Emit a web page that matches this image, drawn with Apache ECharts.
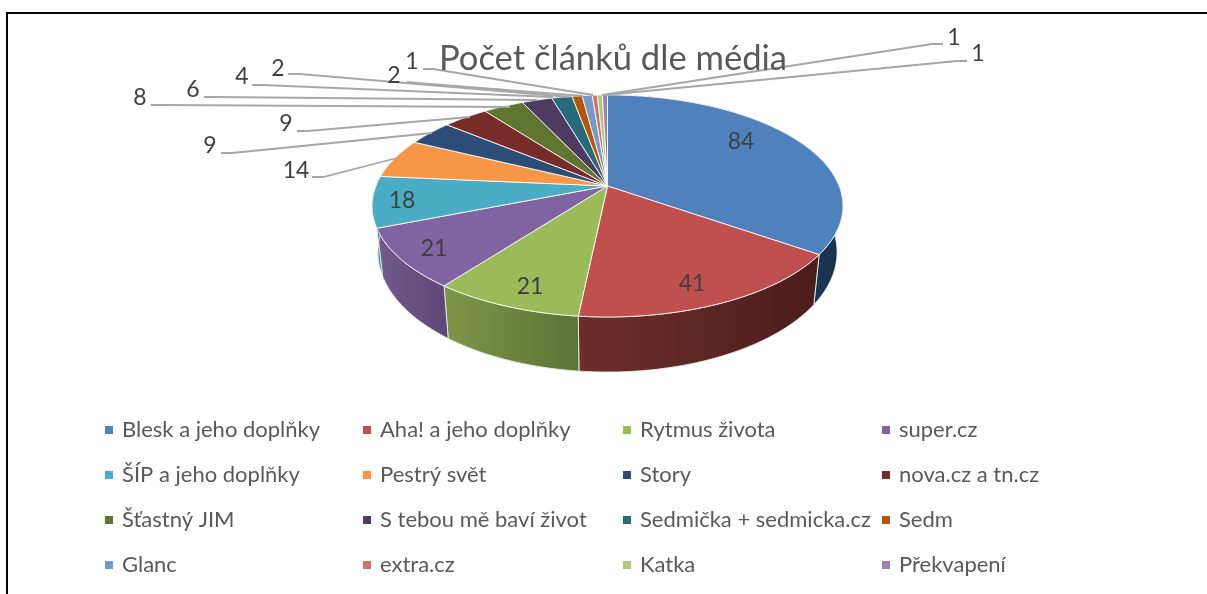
<!DOCTYPE html>
<html><head><meta charset="utf-8">
<style>html,body{margin:0;padding:0;background:#fff}#c{width:1207px;height:594px}</style>
<script src="https://cdn.jsdelivr.net/npm/echarts@6/dist/echarts.min.js"></script>
</head><body><div id="c"></div>
<script>
const categories = ['Blesk a jeho doplňky','Aha! a jeho doplňky','Rytmus života','super.cz','ŠÍP a jeho doplňky','Pestrý svět','Story','nova.cz a tn.cz','Šťastný JIM','S tebou mě baví život','Sedmička + sedmicka.cz','Sedm','Glanc','extra.cz','Katka','Překvapení'];
const values = [84,41,21,21,18,14,9,9,8,6,4,2,2,1,1,1];
const colors = ['#4f81bd','#c0504d','#9bbb59','#8064a2','#4bacc6','#f79646','#2c4d75','#772c2a','#5f7530','#4d3b62','#276a7c','#b65708','#729aca','#cd7371','#afc97a','#9983b5'];
const wallLeft = ['#1a3350','#6e2e2b','#7f9548','#725a8c','#2f8aa2','#b06a30','#1e3650','#521e1d','#435322','#352945','#1b4a57','#7e3d05','#4f6c8d','#8f504f','#7a8c55','#6b5c7f'];
const wallRight = ['#1a3350','#4b1d1b','#5e7334','#5e4778','#2f8aa2','#b06a30','#1e3650','#521e1d','#435322','#352945','#1b4a57','#7e3d05','#4f6c8d','#8f504f','#7a8c55','#6b5c7f'];
// label centre and leader polyline (layout only, not data)
const labelAt = [[741,142],[692,284],[530,287],[434,249],[402,201],[296,171],[210,146],[286,124],[140,98],[193,90],[242,77],[278,69],[394,76],[412,62],[954,38],[978,54]];
const leaders = [null,null,null,null,null,
 [[312,177],[323,177],[397,158]],
 [[221,153],[232,153],[432,133]],
 [[297,131],[308,131],[470,117]],
 [[151,105],[162,105],[510,107]],
 [[204,97],[215,97],[537,100]],
 [[252,85],[263,85],[553,97]],
 [[288,74],[300,74],[570,97]],
 [[407,82],[417,83],[583,96]],
 [[423,69],[433,69],[593,95]],
 [[943,44],[932,44],[602,95]],
 [[967,61],[957,61],[605,95]]];
const FONT = 'Lato, "Open Sans", sans-serif';
const total = values.reduce((a,b)=>a+b,0);
const CX=607.5, CY=186, RX=231.6, B=107.4, K=0.18;
const BOT_SX=0.975, BOT_SY=1.08, BOT_CY=230.6;
function topPt(theta,r){
  const u=r*Math.sin(theta), w=r*Math.cos(theta), d=1+K*w;
  return [CX+RX*u/d, CY-B*w/d];
}
function bottomPt(theta){
  const p=topPt(theta,1);
  return [CX+(p[0]-CX)*BOT_SX, BOT_CY+(p[1]-CY)*BOT_SY];
}
function rim(a0,a1,fn){
  const n=Math.max(2,Math.ceil((a1-a0)/0.01)), pts=[];
  for(let i=0;i<=n;i++) pts.push(fn(a0+(a1-a0)*i/n));
  return pts;
}
function makeRender(i){
  return function(){
    const before=values.slice(0,i).reduce((a,b)=>a+b,0);
    const a0=before/total*2*Math.PI, a1=(before+values[i])/total*2*Math.PI;
    const topRim=rim(a0,a1,t=>topPt(t,1));
    const botRim=rim(a0,a1,bottomPt);
    const children=[{
      type:'polygon',z2:1,
      shape:{points:topRim.concat(botRim.slice().reverse())},
      style:{fill:{type:'linear',x:0,y:0,x2:1,y2:0,colorStops:[{offset:0,color:wallLeft[i]},{offset:1,color:wallRight[i]}]},stroke:'rgba(235,235,235,0.9)',lineWidth:1}
    },{
      type:'polygon',z2:2,
      shape:{points:[[CX,CY]].concat(topRim)},
      style:{fill:colors[i],stroke:'rgba(255,255,255,0.85)',lineWidth:1,lineJoin:'round'}
    }];
    if(leaders[i]) children.push({type:'polyline',z2:3,shape:{points:leaders[i]},style:{fill:null,stroke:'#a6a6a6',lineWidth:1.8}});
    children.push({type:'text',z2:4,style:{text:String(values[i]),x:labelAt[i][0],y:labelAt[i][1],fill:'#404040',font:'23px '+FONT,align:'center',verticalAlign:'middle'}});
    return {type:'group',children};
  };
}
const colX=[105,363,623,882];
const chart=echarts.init(document.getElementById('c'),null,{renderer:'canvas'});
chart.setOption({
  animation:false,
  backgroundColor:'#fff',
  color:colors,
  title:{text:'Počet článků dle média',left:613,top:41,textAlign:'center',textStyle:{fontFamily:FONT,fontSize:34.6,fontWeight:'normal',color:'#595959'},padding:0,itemGap:0},
  legend:colX.map((x,c)=>({
    orient:'vertical',left:x,top:418,padding:0,itemWidth:8,itemHeight:8,itemGap:21,icon:'rect',
    data:[0,1,2,3].map(r=>categories[r*4+c]),selectedMode:false,
    textStyle:{fontFamily:FONT,fontSize:22,color:'#595959',lineHeight:24,padding:[0,0,0,4]}
  })),
  graphic:[
    {type:'rect',shape:{x:6,y:12,width:1201,height:2},style:{fill:'#000'},silent:true},
    {type:'rect',shape:{x:6,y:12,width:2,height:582},style:{fill:'#000'},silent:true}
  ],
  series:categories.map((name,i)=>({
    type:'custom',name,coordinateSystem:'none',data:[values[i]],silent:true,
    itemStyle:{color:colors[i]},renderItem:makeRender(i)
  }))
});
</script></body></html>
